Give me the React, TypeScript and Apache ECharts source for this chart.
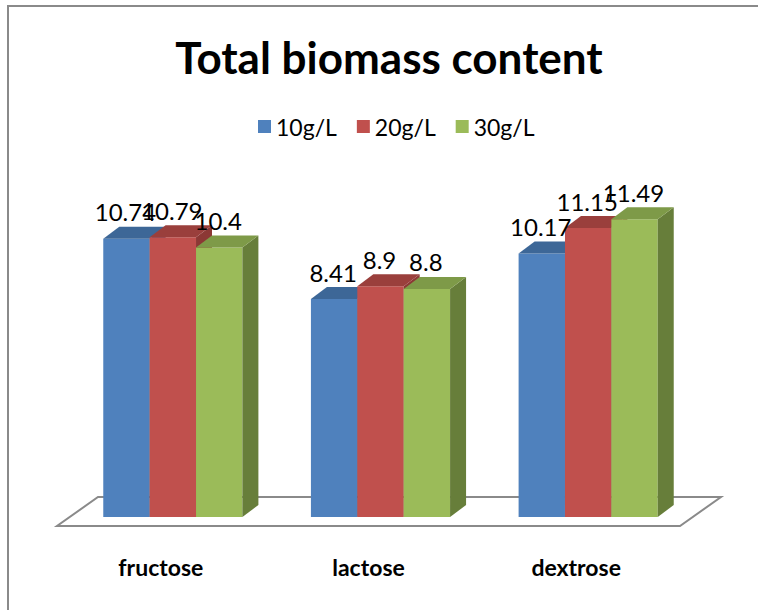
import React, { useEffect, useRef } from "react";
import * as echarts from "echarts";

const categories = ["fructose", "lactose", "dextrose"];
const seriesNames = ["10g/L", "20g/L", "30g/L"];
const values10 = [10.74, 8.41, 10.17];
const values20 = [10.79, 8.9, 11.15];
const values30 = [10.4, 8.8, 11.49];
const allValues = [values10, values20, values30];
const titleText = "Total biomass content";

const FRONT = ["#4F81BD", "#C0504D", "#9BBB59"];
const TOP = ["#3D6797", "#9A3F3C", "#7E9A48"];
const SIDE = ["#335680", "#8C3835", "#677E3A"];

const BAR_DX = 16;
const BAR_DY = -12;
const FLOOR_OFF_DX = -12;
const FLOOR_OFF_DY = 9;
const FLOOR_DX = 41;
const FLOOR_DY = -29;
const GROUP_FRAC = 0.67;
const FONT = "Lato, 'Open Sans', sans-serif";

const makeBarRender = (si: number) => (params: any, api: any) => {
  const cat = api.value(0);
  const val = api.value(1);
  const top = api.coord([cat, val]);
  const base = api.coord([cat, 0]);
  const band = api.size([1, 0])[0];
  const bw = (band * GROUP_FRAC) / 3;
  const x0 = top[0] - 1.5 * bw + si * bw;
  const x1 = x0 + bw;
  const yt = top[1];
  const yb = base[1];
  return {
    type: "group",
    children: [
      {
        type: "polygon",
        shape: { points: [[x0, yt], [x1, yt], [x1, yb], [x0, yb]] },
        style: { fill: FRONT[si] },
      },
      {
        type: "polygon",
        shape: {
          points: [
            [x1, yt],
            [x1 + BAR_DX, yt + BAR_DY],
            [x1 + BAR_DX, yb + BAR_DY],
            [x1, yb],
          ],
        },
        style: { fill: SIDE[si] },
      },
      {
        type: "polygon",
        shape: {
          points: [
            [x0, yt],
            [x0 + BAR_DX, yt + BAR_DY],
            [x1 + BAR_DX, yt + BAR_DY],
            [x1, yt],
          ],
        },
        style: { fill: TOP[si] },
      },
      {
        type: "text",
        z2: 100,
        style: {
          text: String(val),
          x: (x0 + x1) / 2 - 1,
          y: yt + BAR_DY - 3,
          align: "center",
          verticalAlign: "bottom",
          textAlign: "center",
          textVerticalAlign: "bottom",
          fontSize: 24,
          fontFamily: FONT,
          fill: "#000",
        },
      },
    ],
  };
};

const floorRender = (params: any, api: any) => {
  const cs = params.coordSys;
  const xa = cs.x + FLOOR_OFF_DX;
  const xb = cs.x + cs.width + FLOOR_OFF_DX;
  const yf = cs.y + cs.height + FLOOR_OFF_DY;
  return {
    type: "polygon",
    shape: {
      points: [
        [xa, yf],
        [xb, yf],
        [xb + FLOOR_DX, yf + FLOOR_DY],
        [xa + FLOOR_DX, yf + FLOOR_DY],
      ],
    },
    style: { fill: "#fff", stroke: "#8a8a8a", lineWidth: 2 },
  };
};

export default function App() {
  const ref = useRef<HTMLDivElement>(null);
  useEffect(() => {
    if (!ref.current) return;
    const chart = echarts.init(ref.current, undefined, { renderer: "svg" });
    const series: any[] = [
      {
        type: "custom",
        name: "floor",
        renderItem: floorRender,
        data: [[0, 0]],
        silent: true,
      },
    ];
    seriesNames.forEach((n, i) => {
      series.push({
        type: "custom",
        name: n,
        renderItem: makeBarRender(i),
        itemStyle: { color: FRONT[i] },
        data: allValues[i].map((v, c) => [c, v]),
      });
    });
    chart.setOption({
      animation: false,
      backgroundColor: "#fff",
      graphic: [
        {
          type: "rect",
          shape: { x: 8, y: 6, width: 800, height: 700 },
          style: { fill: "none", stroke: "#8a8a8a", lineWidth: 2 },
          silent: true,
        },
        {
          type: "text",
          style: {
            text: titleText,
            x: 389,
            y: 57,
            align: "center",
            verticalAlign: "middle",
            textAlign: "center",
            textVerticalAlign: "middle",
            fontSize: 44,
            fontWeight: "bold",
            fontFamily: FONT,
            fill: "#000",
          },
        },
      ],
      legend: {
        data: seriesNames,
        left: 253,
        top: 110,
        icon: "rect",
        itemWidth: 13,
        itemHeight: 13,
        itemGap: 20,
        textStyle: { fontSize: 23, fontFamily: FONT, color: "#000" },
      },
      grid: { left: 69, right: 66, top: 206, bottom: 93 },
      xAxis: {
        type: "category",
        data: categories,
        axisLine: { show: false },
        axisTick: { show: false },
        splitLine: { show: false },
        axisLabel: {
          margin: 38,
          fontSize: 23,
          fontWeight: "bold",
          fontFamily: FONT,
          color: "#000",
          padding: [0, 24, 0, 0],
        },
      },
      yAxis: { type: "value", min: 0, max: 12, show: false },
      series,
    });
    return () => chart.dispose();
  }, []);
  return (
    <div
      ref={ref}
      style={{ position: "fixed", left: 0, top: 0, width: 758, height: 610 }}
    />
  );
}
